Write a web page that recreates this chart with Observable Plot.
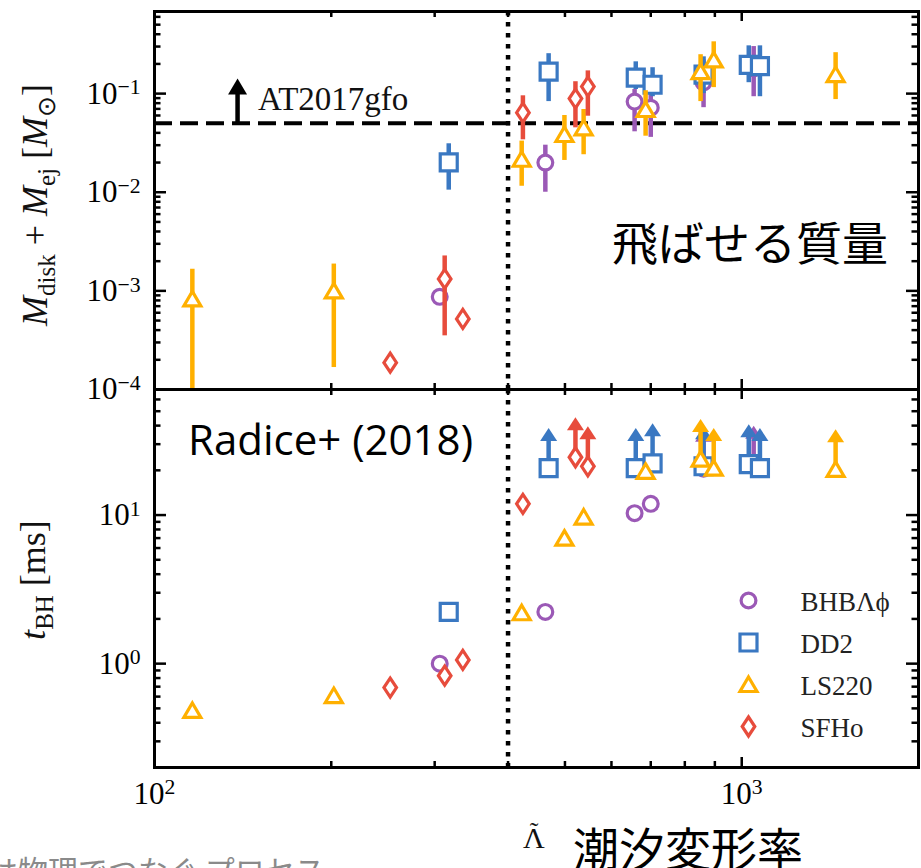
<!DOCTYPE html>
<html><head><meta charset="utf-8">
<script src="https://cdn.jsdelivr.net/npm/d3@7"></script>
<script src="https://cdn.jsdelivr.net/npm/@observablehq/plot@0.6"></script>
<style>
html,body{margin:0;padding:0;background:#fff;}
body{width:921px;height:868px;overflow:hidden;position:relative;}
#top,#bottom,#overlay{position:absolute;left:0;}
#top{top:0;} #bottom{top:386px;} #overlay{top:0;}
</style></head><body>
<div id="top"></div><div id="bottom"></div>
<script>
// ---------- categories / styles ----------
const seriesNames  = ["BHBΛφ", "DD2", "LS220", "SFHo"];
const legendLabels = ["BHBΛϕ", "DD2", "LS220", "SFHo"];
const seriesColors = ["#9b59b6", "#3a78c2", "#ffb000", "#e74c3c"];

// ---------- axes ----------
const lambdaDomain = [100, 2000];
const massDomain   = [1e-4, 0.68];
const tbhDomain    = [0.2, 70];
const massTickDecades   = [1e-4, 1e-3, 1e-2, 1e-1];
const tbhTickDecades    = [1, 10];
const lambdaTickDecades = [100, 1000];
const lambdaCut      = 400;    // vertical dotted line
const at2017gfoMass  = 0.05;   // dashed horizontal line
const at2017gfoLambda = 138.5; // annotation arrow position

// ---------- data: BHBΛφ ----------
const bhbLambda = [306, 463, 657, 700, 861, 1048];
const bhbMass   = [8.7e-4, 0.020, 0.083, 0.072, 0.13, 0.18];
const bhbMassLo = [null, 0.010, 0.041, 0.036, 0.072, 0.093];
const bhbMassHi = [null, 0.030, 0.11, 0.10, 0.22, 0.30];
const bhbTbh    = [1.0, 2.23, 10.3, 11.9, 20.5, 21.5];
const bhbTbhLowerLimit = [false, false, false, false, true, true];

// ---------- data: DD2 ----------
const dd2Lambda = [317, 469, 660, 705, 861, 1028, 1074];
const dd2Mass   = [0.0201, 0.167, 0.145, 0.123, 0.156, 0.196, 0.19];
const dd2MassLo = [0.0105, 0.083, 0.11, 0.093, 0.10, 0.129, 0.093];
const dd2MassHi = [0.031, 0.254, 0.21, 0.183, 0.236, 0.305, 0.305];
const dd2Tbh    = [2.23, 20.7, 20.7, 22.3, 21.3, 22, 20.7];
const dd2TbhLowerLimit = [false, true, true, true, true, true, true];

// ---------- data: LS220 ----------
const ls220Lambda = [116, 202, 422, 499, 538, 686, 851, 896, 1445];
const ls220Mass   = [8.3e-4, 1.0e-3, 0.0216, 0.0385, 0.045, 0.069, 0.167, 0.22, 0.156];
const ls220MassLo = [5e-5, 1.67e-4, 0.0115, 0.021, 0.024, 0.037, 0.083, 0.115, 0.087];
const ls220MassHi = [1.66e-3, 1.87e-3, 0.033, 0.06, 0.069, 0.107, 0.248, 0.335, 0.26];
const ls220Tbh    = [0.484, 0.61, 2.2, 7.0, 9.7, 19.7, 23.8, 20.7, 20.3];
const ls220TbhLowerLimit = [false, false, false, false, false, false, true, true, true];

// ---------- data: SFHo ----------
const sfhoLambda = [252, 312, 335, 424, 521, 547];
const sfhoMass   = [1.87e-4, 1.32e-3, 5.2e-4, 0.064, 0.089, 0.118];
const sfhoMassLo = [null, 3.5e-4, null, 0.034, 0.045, 0.059];
const sfhoMassHi = [null, 2.26e-3, null, 0.095, 0.132, 0.17];
const sfhoTbh    = [0.69, 0.83, 1.06, 11.9, 24.5, 21.3];
const sfhoTbhLowerLimit = [false, false, false, false, true, true];

// ---------- build tables ----------
const table = (name, L, M, lo, hi, T, lim) =>
  L.map((l, i) => ({series: name, lambda: l, mass: M[i], lo: lo[i], hi: hi[i], tbh: T[i], lim: lim[i]}));
const data = [
  table(seriesNames[0], bhbLambda, bhbMass, bhbMassLo, bhbMassHi, bhbTbh, bhbTbhLowerLimit),
  table(seriesNames[1], dd2Lambda, dd2Mass, dd2MassLo, dd2MassHi, dd2Tbh, dd2TbhLowerLimit),
  table(seriesNames[2], ls220Lambda, ls220Mass, ls220MassLo, ls220MassHi, ls220Tbh, ls220TbhLowerLimit),
  table(seriesNames[3], sfhoLambda, sfhoMass, sfhoMassLo, sfhoMassHi, sfhoTbh, sfhoTbhLowerLimit)
];

// ---------- marker shapes ----------
const symCircle  = {draw(c){ c.moveTo(7.4, 0); c.arc(0, 0, 7.4, 0, 2 * Math.PI); c.closePath(); }};
const symSquare  = {draw(c){ c.moveTo(-8.5, -8.5); c.lineTo(8.5, -8.5); c.lineTo(8.5, 8.5); c.lineTo(-8.5, 8.5); c.closePath(); }};
const symTri     = {draw(c){ c.moveTo(0, -7.5); c.lineTo(8.5, 7); c.lineTo(-8.5, 7); c.closePath(); }};
const symDiamond = {draw(c){ c.moveTo(0, -9.5); c.lineTo(6.3, 0); c.lineTo(0, 9.5); c.lineTo(-6.3, 0); c.closePath(); }};
const symHead    = {draw(c){ c.moveTo(0, -13); c.lineTo(8.5, 0); c.lineTo(-8.5, 0); c.closePath(); }};
const symHeadBig = {draw(c){ c.moveTo(0, -16); c.lineTo(9.5, 0); c.lineTo(-9.5, 0); c.closePath(); }};
const symbols = [symCircle, symSquare, symTri, symDiamond];

const W = 921, ML = 154, MR = 3;
const FW = W - ML - MR;
const FH = 378;
const arrowFactor = 1.52;  // lower-limit arrow length on log t axis

function logTicks(domain) {
  const out = [];
  for (let e = Math.floor(Math.log10(domain[0])); e <= Math.ceil(Math.log10(domain[1])); e++)
    for (let k = 1; k <= 9; k++) {
      const v = k * Math.pow(10, e);
      if (v >= domain[0] * 0.9999 && v <= domain[1] * 1.0001) out.push({v, major: k === 1});
    }
  return out;
}
function tickMarks(xt, yt) {
  const M = [];
  for (const [lenY, lenX, major] of [[12, 10, true], [6.5, 6, false]]) {
    const ys = yt.filter(d => d.major === major), xs = xt.filter(d => d.major === major);
    const s = {stroke: "black", strokeWidth: 2.5};
    M.push(Plot.tickY(ys, {y: "v", insetRight: FW - lenY, ...s}));
    M.push(Plot.tickY(ys, {y: "v", insetLeft: FW - lenY, ...s}));
    M.push(Plot.tickX(xs, {x: "v", insetBottom: FH - lenX, ...s}));
    M.push(Plot.tickX(xs, {x: "v", insetTop: FH - lenX, ...s}));
  }
  return M;
}
const fmtPow = d => "10|" + String(Math.round(Math.log10(d))).replace("-", "\u2212");

function seriesMarks(panel) {
  const out = [];
  data.forEach((rows, i) => {
    const c = seriesColors[i], sym = symbols[i];
    if (panel === "mass") {
      out.push(Plot.ruleX(rows.filter(d => d.lo != null), {x: "lambda", y1: "lo", y2: "hi", stroke: c, strokeWidth: 4.5, clip: true}));
      out.push(Plot.dot(rows, {x: "lambda", y: "mass", symbol: sym, fill: "white", stroke: c, strokeWidth: 3.2, strokeLinejoin: "miter"}));
    } else {
      const lim = rows.filter(d => d.lim);
      out.push(Plot.ruleX(lim, {x: "lambda", y1: "tbh", y2: d => d.tbh * arrowFactor * 1.01, stroke: c, strokeWidth: 4.5}));
      out.push(Plot.dot(lim, {x: "lambda", y: d => d.tbh * arrowFactor, symbol: symHead, fill: c, stroke: "none"}));
      out.push(Plot.dot(rows, {x: "lambda", y: "tbh", symbol: sym, fill: "white", stroke: c, strokeWidth: 3.2, strokeLinejoin: "miter"}));
    }
  });
  return out;
}

const baseStyle = {background: "transparent", overflow: "visible", fontFamily: "'Liberation Serif', serif", fontSize: "31px", color: "black"};

// ---------- top panel ----------
const topPlot = Plot.plot({
  width: W, height: 392, marginLeft: ML, marginRight: MR, marginTop: 11, marginBottom: 3,
  x: {type: "log", domain: lambdaDomain, axis: null},
  y: {type: "log", domain: massDomain},
  style: baseStyle,
  marks: [
    ...tickMarks(logTicks(lambdaDomain), logTicks(massDomain)),
    Plot.ruleX([lambdaCut], {stroke: "black", strokeWidth: 4.5, strokeDasharray: "4.5,6.5"}),
    Plot.ruleY([at2017gfoMass], {stroke: "black", strokeWidth: 4, strokeDasharray: "18,8"}),
    Plot.ruleX([at2017gfoLambda], {x: d => d, y1: at2017gfoMass, y2: at2017gfoMass * 1.98, stroke: "black", strokeWidth: 4.5}),
    Plot.dot([at2017gfoLambda], {x: d => d, y: at2017gfoMass * 1.96, symbol: symHeadBig, fill: "black", stroke: "none"}),
    ...seriesMarks("mass"),
    Plot.axisY(massTickDecades, {anchor: "left", tickSize: 0, tickPadding: 14, tickFormat: fmtPow, label: null}),
    Plot.frame({stroke: "black", strokeWidth: 3})
  ]
});
document.getElementById("top").append(topPlot);

// ---------- bottom panel ----------
const legendMarks = [];
legendLabels.forEach((lab, i) => {
  const dy = 211 + i * 42;
  legendMarks.push(Plot.dot([lab], {frameAnchor: "top-left", dx: 594, dy, symbol: symbols[i], fill: "white", stroke: seriesColors[i], strokeWidth: 3.2, strokeLinejoin: "miter"}));
  legendMarks.push(Plot.text([lab], {frameAnchor: "top-left", dx: 646, dy: dy + 1.5, text: d => d, textAnchor: "start", lineAnchor: "middle", fontSize: 27, fontFamily: "'Liberation Serif', serif", fill: "#222"}));
});

const bottomPlot = Plot.plot({
  width: W, height: 482, marginLeft: ML, marginRight: MR, marginTop: 3, marginBottom: 101,
  x: {type: "log", domain: lambdaDomain},
  y: {type: "log", domain: tbhDomain},
  style: baseStyle,
  marks: [
    ...tickMarks(logTicks(lambdaDomain), logTicks(tbhDomain)),
    Plot.ruleX([lambdaCut], {stroke: "black", strokeWidth: 4.5, strokeDasharray: "4.5,6.5"}),
    ...seriesMarks("tbh"),
    ...legendMarks,
    Plot.axisY(tbhTickDecades, {anchor: "left", tickSize: 0, tickPadding: 14, tickFormat: fmtPow, label: null}),
    Plot.axisX(lambdaTickDecades, {anchor: "bottom", tickSize: 0, tickPadding: 14, tickFormat: fmtPow, label: null}),
    Plot.frame({stroke: "black", strokeWidth: 3})
  ]
});
document.getElementById("bottom").append(bottomPlot);

// superscripts in tick labels
document.querySelectorAll("svg text").forEach(t => {
  const s = t.textContent;
  if (s.includes("|")) {
    const [b, e] = s.split("|");
    t.textContent = "";
    t.append(document.createTextNode(b));
    const ts = document.createElementNS("http://www.w3.org/2000/svg", "tspan");
    ts.setAttribute("dy", "-0.42em");
    ts.setAttribute("font-size", "0.7em");
    ts.textContent = e;
    t.append(ts);
  }
});

// ---------- overlay text ----------
const ov = d3.select("body").append("svg").attr("id", "overlay")
  .attr("width", W).attr("height", 900).style("overflow", "visible").style("pointer-events", "none");
const serif = "'Liberation Serif', serif", cjk = "'Noto Sans CJK JP', sans-serif";
function richText(g, parts, size, subSize) {
  const t = g.append("text").attr("font-family", serif).attr("font-size", size).attr("text-anchor", "middle").attr("fill", "#111");
  let shifted = false;
  parts.forEach(p => {
    const ts = t.append("tspan").text(p.t);
    if (p.i) ts.attr("font-style", "italic");
    if (p.sub && !shifted) { ts.attr("dy", subSize * 0.32).attr("font-size", subSize); shifted = true; }
    else if (p.sub) { ts.attr("font-size", subSize); }
    else if (!p.sub && shifted) { ts.attr("dy", -subSize * 0.32); shifted = false; }
  });
  return t;
}
richText(ov.append("g").attr("transform", "translate(47,205) rotate(-90)"),
  [{t: "M", i: 1}, {t: "disk", sub: 1}, {t: " + "}, {t: "M", i: 1}, {t: "ej", sub: 1}, {t: " ["}, {t: "M", i: 1}, {t: "\u2299", sub: 1}, {t: "]"}], 36, 25);
richText(ov.append("g").attr("transform", "translate(45,580) rotate(-90)"),
  [{t: "t", i: 1}, {t: "BH", sub: 1}, {t: " [ms]"}], 36, 25);

ov.append("text").attr("x", 258).attr("y", 110).attr("font-family", serif).attr("font-size", 33).attr("fill", "#111").text("AT2017gfo");
ov.append("text").attr("x", 612).attr("y", 260).attr("font-family", cjk).attr("font-size", 46).attr("fill", "#000").text("飛ばせる質量");
ov.append("text").attr("x", 188).attr("y", 455).attr("font-family", "'Open Sans', sans-serif").attr("font-size", 42).attr("fill", "#000").text("Radice+ (2018)");
// Λ with tilde accent
ov.append("text").attr("x", 534).attr("y", 848).attr("text-anchor", "middle").attr("font-family", serif).attr("font-size", 30).attr("fill", "#111").text("Λ");
ov.append("text").attr("x", 534).attr("y", 840).attr("text-anchor", "middle").attr("font-family", serif).attr("font-size", 26).attr("fill", "#111").text("\u02DC");
ov.append("text").attr("x", 573).attr("y", 866).attr("font-family", cjk).attr("font-size", 46).attr("fill", "#000").text("潮汐変形率");
ov.append("text").attr("x", -12).attr("y", 882).attr("font-family", cjk).attr("font-size", 30).attr("fill", "#8a8a8a").text("は物理でつなぐ プロセス");
</script></body></html>
